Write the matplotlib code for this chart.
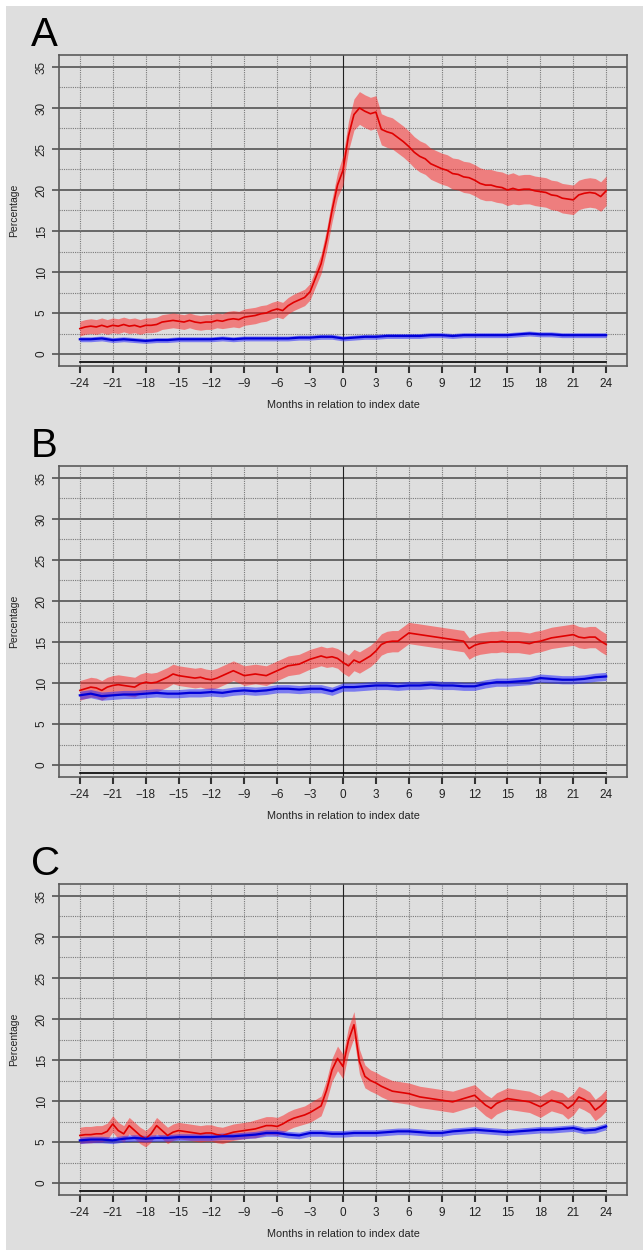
import matplotlib.pyplot as plt
import numpy as np

plt.rcParams['font.family'] = ['Liberation Sans', 'DejaVu Sans']

# half-month grid for the red series, monthly grid for the blue series
months_fine = np.arange(-24, 24.01, 0.5)
months = np.arange(-24, 25, 1)
xtick_months = list(range(-24, 25, 3))
ytick_vals = list(range(0, 36, 5))

# ---- Panel A ----
red_a = [3.1, 3.3, 3.4, 3.3, 3.5, 3.3, 3.5, 3.4,
         3.6, 3.4, 3.5, 3.3, 3.5, 3.5, 3.6, 3.9,
         4.0, 4.1, 4.0, 3.9, 4.1, 3.9, 3.8, 3.9,
         3.9, 4.1, 4.0, 4.2, 4.3, 4.2, 4.5, 4.6,
         4.7, 4.9, 5.0, 5.3, 5.5, 5.3, 5.9, 6.3,
         6.6, 6.9, 7.6, 9.3, 11.0, 13.9, 17.5, 20.6,
         22.4, 26.6, 29.2, 30.0, 29.6, 29.3, 29.5, 27.4,
         27.1, 26.9, 26.4, 25.9, 25.3, 24.6, 24.1, 23.8,
         23.2, 22.9, 22.6, 22.4, 22.0, 21.9, 21.6, 21.5,
         21.2, 20.8, 20.6, 20.6, 20.4, 20.3, 20.0, 20.2,
         20.0, 20.1, 20.1, 19.9, 19.8, 19.7, 19.4, 19.3,
         19.0, 18.9, 18.8, 19.4, 19.6, 19.7, 19.6, 19.2,
         19.9]
red_a_hw = [0.9, 0.9, 0.9, 0.9, 0.9, 0.9, 0.9, 0.9,
            0.9, 0.9, 0.9, 0.9, 0.9, 0.9, 0.9, 0.9,
            0.9, 0.9, 0.9, 0.9, 0.9, 0.9, 0.9, 0.9,
            0.9, 0.9, 0.9, 1.0, 1.0, 1.0, 1.0, 1.0,
            1.0, 1.0, 1.0, 1.0, 1.0, 1.0, 1.0, 1.0,
            1.0, 1.0, 1.0, 1.1, 1.2, 1.3, 1.4, 1.5,
            1.8, 1.8, 1.9, 2.0, 2.0, 2.0, 2.0, 1.9,
            1.9, 1.9, 1.9, 1.9, 1.9, 1.9, 1.9, 1.9,
            1.9, 1.9, 1.9, 1.9, 1.9, 1.9, 1.9, 1.9,
            1.9, 1.9, 1.9, 1.9, 1.9, 1.9, 1.9, 1.9,
            1.8, 1.8, 1.8, 1.8, 1.8, 1.8, 1.8, 1.8,
            1.8, 1.8, 1.8, 1.8, 1.8, 1.8, 1.8, 1.8,
            1.8]
blue_a = [1.8, 1.8, 1.9, 1.7, 1.8, 1.7, 1.6, 1.7,
          1.7, 1.8, 1.8, 1.8, 1.8, 1.9, 1.8, 1.9,
          1.9, 1.9, 1.9, 1.9, 2.0, 2.0, 2.1, 2.1,
          1.9, 2.0, 2.1, 2.1, 2.2, 2.2, 2.2, 2.2,
          2.3, 2.3, 2.2, 2.3, 2.3, 2.3, 2.3, 2.3,
          2.4, 2.5, 2.4, 2.4, 2.3, 2.3, 2.3, 2.3,
          2.3]
blue_a_hw = 0.3

# ---- Panel B ----
red_b = [9.1, 9.3, 9.5, 9.4, 9.1, 9.5, 9.7, 9.8,
         9.7, 9.6, 9.5, 9.9, 10.1, 10.0, 10.1, 10.4,
         10.7, 11.1, 10.9, 10.8, 10.7, 10.6, 10.7, 10.5,
         10.4, 10.6, 10.9, 11.2, 11.5, 11.2, 10.9, 11.0,
         11.1, 11.0, 10.9, 11.2, 11.5, 11.8, 12.1, 12.2,
         12.3, 12.6, 12.9, 13.1, 13.3, 13.1, 13.2, 13.0,
         12.5, 12.1, 12.8, 12.5, 12.9, 13.3, 13.9, 14.7,
         15.0, 15.1, 15.1, 15.6, 16.1, 16.0, 15.9, 15.8,
         15.7, 15.6, 15.5, 15.4, 15.3, 15.2, 15.1, 14.2,
         14.6, 14.8, 14.9, 15.0, 15.0, 15.1, 15.0, 15.0,
         15.0, 14.9, 14.8, 15.0, 15.1, 15.3, 15.5, 15.6,
         15.7, 15.8, 15.9, 15.6, 15.5, 15.6, 15.6, 15.1,
         14.7]
red_b_hw = [1.2, 1.2, 1.2, 1.2, 1.2, 1.2, 1.2, 1.2,
            1.2, 1.2, 1.2, 1.2, 1.2, 1.2, 1.2, 1.2,
            1.2, 1.2, 1.2, 1.2, 1.2, 1.2, 1.2, 1.2,
            1.2, 1.2, 1.2, 1.2, 1.2, 1.2, 1.2, 1.2,
            1.2, 1.2, 1.2, 1.2, 1.2, 1.2, 1.2, 1.2,
            1.2, 1.2, 1.2, 1.2, 1.2, 1.2, 1.2, 1.2,
            1.3, 1.3, 1.3, 1.3, 1.3, 1.3, 1.3, 1.3,
            1.3, 1.3, 1.3, 1.3, 1.3, 1.3, 1.3, 1.3,
            1.3, 1.3, 1.3, 1.3, 1.3, 1.3, 1.3, 1.3,
            1.3, 1.3, 1.3, 1.3, 1.3, 1.3, 1.3, 1.3,
            1.3, 1.3, 1.3, 1.3, 1.3, 1.3, 1.3, 1.3,
            1.3, 1.3, 1.3, 1.3, 1.3, 1.3, 1.3, 1.3,
            1.3]
blue_b = [8.5, 8.7, 8.4, 8.5, 8.6, 8.6, 8.7, 8.8,
          8.7, 8.7, 8.8, 8.8, 8.9, 8.8, 9.0, 9.1,
          9.0, 9.1, 9.3, 9.3, 9.2, 9.3, 9.3, 9.0,
          9.5, 9.5, 9.6, 9.7, 9.7, 9.6, 9.7, 9.7,
          9.8, 9.7, 9.7, 9.6, 9.6, 9.9, 10.1, 10.1,
          10.2, 10.3, 10.6, 10.5, 10.4, 10.4, 10.5, 10.7,
          10.8]
blue_b_hw = 0.5

# ---- Panel C ----
red_c = [5.8, 5.9, 5.9, 6.0, 6.0, 6.3, 7.2, 6.4,
         6.0, 7.0, 6.4, 5.8, 5.4, 6.0, 7.0, 6.4,
         5.8, 6.2, 6.4, 6.3, 6.2, 6.1, 6.0, 6.1,
         6.1, 5.9, 5.8, 6.0, 6.2, 6.3, 6.4, 6.5,
         6.6, 6.8, 7.0, 7.0, 6.9, 7.2, 7.6, 7.9,
         8.1, 8.3, 8.6, 9.0, 9.4, 11.3, 13.8, 15.2,
         14.2, 17.4, 19.3, 14.8, 13.0, 12.5, 12.2, 11.8,
         11.5, 11.2, 11.1, 11.0, 10.9, 10.7, 10.5, 10.4,
         10.3, 10.2, 10.1, 10.0, 9.9, 10.1, 10.3, 10.5,
         10.7, 10.1, 9.5, 9.1, 9.7, 10.0, 10.3, 10.2,
         10.1, 10.0, 9.9, 9.6, 9.3, 9.7, 10.1, 9.9,
         9.7, 9.1, 9.6, 10.5, 10.2, 9.8, 8.9, 9.4,
         10.1]
red_c_hw = [1.0, 1.0, 1.0, 1.0, 1.0, 1.0, 1.0, 1.0,
            1.0, 1.0, 1.0, 1.0, 1.0, 1.0, 1.0, 1.0,
            1.0, 1.0, 1.0, 1.0, 1.0, 1.0, 1.0, 1.0,
            1.0, 1.0, 1.0, 1.0, 1.0, 1.0, 1.0, 1.0,
            1.1, 1.1, 1.1, 1.1, 1.1, 1.1, 1.1, 1.1,
            1.1, 1.1, 1.2, 1.2, 1.2, 1.3, 1.4, 1.5,
            1.5, 1.6, 1.6, 1.5, 1.4, 1.3, 1.3, 1.3,
            1.3, 1.3, 1.3, 1.3, 1.3, 1.3, 1.3, 1.3,
            1.3, 1.3, 1.3, 1.3, 1.3, 1.3, 1.3, 1.3,
            1.3, 1.3, 1.3, 1.3, 1.3, 1.3, 1.3, 1.3,
            1.3, 1.3, 1.3, 1.3, 1.3, 1.3, 1.3, 1.3,
            1.3, 1.3, 1.3, 1.3, 1.3, 1.3, 1.3, 1.3,
            1.3]
blue_c = [5.2, 5.3, 5.3, 5.2, 5.4, 5.5, 5.4, 5.5,
          5.5, 5.6, 5.6, 5.6, 5.6, 5.7, 5.7, 5.8,
          5.9, 6.1, 6.1, 5.9, 5.8, 6.1, 6.1, 6.0,
          6.0, 6.1, 6.1, 6.1, 6.2, 6.3, 6.3, 6.2,
          6.1, 6.1, 6.3, 6.4, 6.5, 6.4, 6.3, 6.2,
          6.3, 6.4, 6.5, 6.5, 6.6, 6.7, 6.4, 6.5,
          6.9]
blue_c_hw = 0.4

bg = '#dedede'
W, H = 643, 1250

fig = plt.figure(figsize=(W / 100, H / 100), dpi=100)
fig.patch.set_facecolor('white')
fig.add_artist(plt.Rectangle((6 / W, 0), 1, 1 - 6 / H, transform=fig.transFigure,
                             facecolor=bg, edgecolor='none', zorder=-10))


def draw_panel(top_px, letter, red, red_hw, blue, blue_hw):
    ax = fig.add_axes([59 / W, 1 - (top_px + 311) / H, 568 / W, 311 / H])
    ax.set_facecolor(bg)
    ax.set_xlim(-25.9, 25.9)
    ax.set_ylim(-1.46, 36.46)

    # grid: solid at every 5, dotted halfway between
    for y in ytick_vals:
        ax.axhline(y, color='#5e5e5e', lw=1.3, zorder=1)
    for y in np.arange(2.5, 35, 5):
        ax.axhline(y, color='#7a7a7a', lw=0.8, ls=(0, (1, 1)), zorder=1)
    for x in xtick_months:
        if x == 0:
            ax.axvline(0, color='#202020', lw=0.8, zorder=1)
        else:
            ax.axvline(x, color='#7a7a7a', lw=0.8, ls=(0, (1, 1)), zorder=1)
    ax.plot([-24, 24], [-1, -1], color='black', lw=1.2, zorder=2)

    red = np.array(red)
    red_hw = np.array(red_hw)
    blue = np.array(blue)
    ax.fill_between(months_fine, red - red_hw, red + red_hw, color='#ff2020',
                    alpha=0.5, lw=0, zorder=3)
    ax.fill_between(months, blue - blue_hw, blue + blue_hw, color='#2a2aff',
                    alpha=0.55, lw=0, zorder=4)
    ax.plot(months_fine, red, color='#e00000', lw=1.2, zorder=5)
    ax.plot(months, blue, color='#0000d8', lw=1.6, zorder=6)

    for s in ax.spines.values():
        s.set_color('#5a5a5a')
        s.set_linewidth(1.2)

    ax.set_xticks(xtick_months)
    ax.set_xticklabels([str(m).replace('-', '\u2212') for m in xtick_months])
    ax.set_yticks(ytick_vals)
    ax.tick_params(axis='x', direction='out', length=5, width=1.5, color='#333333',
                   labelsize=8.5, pad=4, labelcolor='#222222')
    ax.tick_params(axis='y', direction='out', length=5, width=1.3, color='#5e5e5e',
                   labelsize=8.5, pad=3, labelrotation=90, labelcolor='#222222')
    for lab in ax.get_yticklabels():
        lab.set_verticalalignment('center')

    ax.set_xlabel('Months in relation to index date', fontsize=7.8, color='#222222')
    ax.xaxis.set_label_coords(0.5, -0.11)
    ax.set_ylabel('Percentage', fontsize=7.5, color='#222222')
    ax.yaxis.set_label_coords(-0.071, 0.5)

    fig.text(31 / W, 1 - (top_px - 9) / H, letter, fontsize=29, va='baseline',
             ha='left', color='black')
    return ax


draw_panel(55, 'A', red_a, red_a_hw, blue_a, blue_a_hw)
draw_panel(466, 'B', red_b, red_b_hw, blue_b, blue_b_hw)
draw_panel(884, 'C', red_c, red_c_hw, blue_c, blue_c_hw)

fig.savefig('out.png', dpi=100, facecolor=fig.get_facecolor())
